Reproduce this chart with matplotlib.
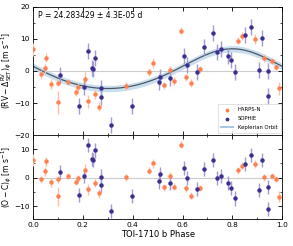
import numpy as np
import matplotlib.pyplot as plt

# HARPS-N data (phase, RV, residual, error)
harps_phase = [0.001, 0.032, 0.047, 0.053, 0.072, 0.099, 0.101, 0.139, 0.171, 0.180,
               0.209, 0.221, 0.249, 0.265, 0.371, 0.467, 0.481, 0.527, 0.549, 0.565,
               0.595, 0.613, 0.633, 0.672, 0.823, 0.840, 0.889, 0.928, 0.961, 0.975, 0.989]
harps_rv = [6.8, -0.9, 0.8, 4.2, -4.1, -9.8, -3.6, -3.4, -6.6, -5.1,
            -2.4, -9.5, -7.3, -11.1, -4.7, -0.3, 2.4, -4.5, 0.2, -3.1,
            12.6, -2.0, -3.75, 0.5, 9.5, 10.9, 10.0, 4.0, 3.1, 1.3, -5.4]
harps_res = [6.2, -0.5, 2.2, 5.7, -1.6, -6.6, -0.5, 0.7, -1.5, -0.2,
             2.8, -4.1, -1.8, -5.5, 0.2, 2.5, 5.0, -3.3, 0.7, -3.2,
             11.6, -3.7, -6.3, -3.5, 2.6, 4.2, 4.8, 0.2, 0.7, -0.5, -6.7]
harps_err = [2.0, 1.2, 1.5, 1.5, 1.5, 3.5, 1.2, 1.0, 1.2, 1.2,
             2.0, 2.0, 1.5, 1.5, 1.2, 1.2, 1.5, 1.2, 1.2, 1.2,
             1.2, 1.2, 1.2, 1.0, 1.2, 1.2, 1.5, 1.2, 1.0, 1.0, 2.0]

# SOPHIE data
sophie_phase = [0.109, 0.184, 0.205, 0.220, 0.236, 0.239, 0.249, 0.272, 0.273, 0.313,
                0.396, 0.507, 0.509, 0.549, 0.607, 0.619, 0.657, 0.685, 0.724, 0.737,
                0.753, 0.781, 0.793, 0.812, 0.852, 0.875, 0.909, 0.920, 0.945, 0.945]
sophie_rv = [-1.4, -10.9, -4.9, 6.3, 0.8, 0.5, 4.1, -5.4, -8.0, -16.8,
             -10.9, -3.3, -2.0, -2.3, 4.8, 1.9, -0.2, 7.5, 12.0, 5.9,
             6.8, 4.7, 3.3, -0.3, 11.3, 13.8, 0.2, 10.4, 0.0, -7.7]
sophie_res = [2.0, -6.0, 0.5, 11.6, 6.6, 6.1, 9.6, 0.4, -2.6, -11.8,
              -6.4, -1.3, 1.4, -1.9, 3.3, -0.2, -3.9, 3.0, 6.3, 0.0,
              0.7, -1.9, -3.5, -7.3, 4.9, 8.0, -4.3, 6.2, -3.3, -10.9]
sophie_err = [2.5] * len(sophie_phase)

# Keplerian orbit parameters
K, ecc, omega, tp, gamma = 6.2, 0.1, 0.0, 0.8, 0.1
band = 1.0


def keplerian(phase):
    M = 2 * np.pi * (phase - tp)
    E = M.copy()
    for _ in range(50):
        E = M + ecc * np.sin(E)
    nu = 2 * np.arctan(np.sqrt((1 + ecc) / (1 - ecc)) * np.tan(E / 2))
    return gamma + K * (np.cos(nu + omega) + ecc * np.cos(omega))


orange = "#ff8050"
orange_err = "#ffbfa3"
blue = "#3b2f8f"
blue_err = "#a19bd0"

fig = plt.figure(figsize=(2.93, 2.46), dpi=100)
ax1 = fig.add_axes([0.113, 0.451, 0.850, 0.521])
ax2 = fig.add_axes([0.113, 0.110, 0.850, 0.341], sharex=ax1)

phi = np.linspace(0, 1, 500)
model = keplerian(phi)

for ax in (ax1, ax2):
    ax.axhline(0, color="#cccccc", lw=0.8, zorder=0)

ax1.fill_between(phi, model - band, model + band, color="#bcd6ea", alpha=0.8, lw=0, zorder=1)
ax1.plot(phi, model, color="#4a5866", lw=0.9, zorder=2)

ax1.errorbar(harps_phase, harps_rv, yerr=harps_err, fmt="o", ms=2.2, color=orange,
             ecolor=orange_err, elinewidth=1.0, capsize=0, zorder=3)
ax1.errorbar(sophie_phase, sophie_rv, yerr=sophie_err, fmt="o", ms=2.2, color=blue,
             ecolor=blue_err, elinewidth=1.0, capsize=0, zorder=3)
ax2.errorbar(harps_phase, harps_res, yerr=harps_err, fmt="o", ms=2.2, color=orange,
             ecolor=orange_err, elinewidth=1.0, capsize=0, zorder=3)
ax2.errorbar(sophie_phase, sophie_res, yerr=sophie_err, fmt="o", ms=2.2, color=blue,
             ecolor=blue_err, elinewidth=1.0, capsize=0, zorder=3)

# legend handles
h1 = ax1.scatter([], [], s=3, color=orange, label="HARPS-N")
h2 = ax1.scatter([], [], s=3, color=blue, label="SOPHIE")
h3, = ax1.plot([], [], color="#a9c7df", lw=1.5, label="Keplerian Orbit")
leg = ax1.legend(handles=[h1, h2, h3], loc="lower right", fontsize=3.8, frameon=True,
                 fancybox=False, edgecolor="#cccccc", handlelength=2.4, borderpad=0.6,
                 labelspacing=0.75, borderaxespad=0.3)
leg.get_frame().set_linewidth(0.5)

ax1.text(0.02, 0.97, "P = 24.283429 ± 4.3E-05 d", transform=ax1.transAxes,
         fontsize=5.5, va="top", ha="left")

ax1.set_xlim(0, 1)
ax1.set_ylim(-20, 20)
ax2.set_ylim(-14.5, 15)
ax1.set_yticks([-20, -10, 0, 10, 20])
ax2.set_yticks([-10, 0, 10])
ax2.set_xticks([0.0, 0.2, 0.4, 0.6, 0.8, 1.0])
ax2.set_xticks(np.arange(0, 1.01, 0.1), minor=True)
ax1.set_yticks(np.arange(-20, 21, 5), minor=True)
ax2.set_yticks(np.arange(-10, 11, 5), minor=True)

for ax in (ax1, ax2):
    ax.tick_params(direction="in", top=True, right=True, labelsize=5.3, length=3, width=0.6, pad=2.5)
    ax.tick_params(which="minor", direction="in", top=True, right=True, length=1.5, width=0.5)
    for s in ax.spines.values():
        s.set_linewidth(0.6)
ax1.tick_params(labelbottom=False)

ax1.set_ylabel(r"$(\mathrm{RV} - \Delta^{\mathrm{RV}}_{\mathrm{SET}})_\phi$ [m s$^{-1}$]", fontsize=5.5)
ax2.set_ylabel(r"$(\mathrm{O-C})_\phi$ [m s$^{-1}$]", fontsize=5.5)
ax1.yaxis.set_label_coords(-0.078, 0.5)
ax2.yaxis.set_label_coords(-0.078, 0.5)
ax2.set_xlabel("TOI-1710 b Phase", fontsize=6, labelpad=1.5)

fig.savefig("out.png", dpi=100)
